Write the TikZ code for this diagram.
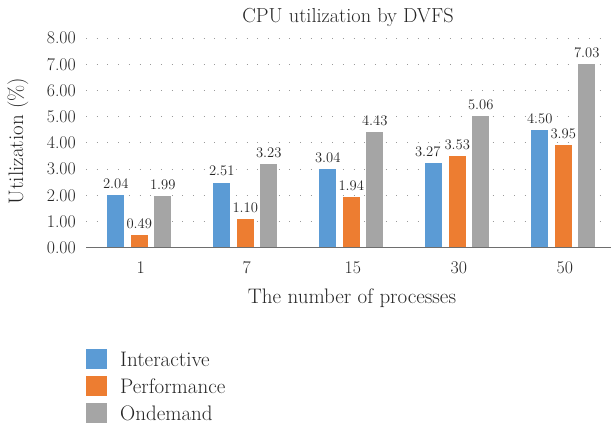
\documentclass[tikz,border=0pt]{standalone}
\usepackage{xcolor}
\definecolor{interactive}{HTML}{5B9BD5}
\definecolor{performance}{HTML}{ED7D31}
\definecolor{ondemand}{HTML}{A5A5A5}
\definecolor{axisgray}{HTML}{6E6E6E}
\definecolor{gridgray}{HTML}{9A9A9A}
\definecolor{txtgray}{HTML}{262626}

\begin{document}
\begin{tikzpicture}[x=1pt, y=1pt,
    lbl/.style={font=\fontsize{21}{24}\selectfont, text=txtgray, inner sep=0pt},
    tlbl/.style={font=\fontsize{17.8}{20}\selectfont, text=txtgray, inner sep=0pt},
    vlbl/.style={font=\fontsize{14.6}{16}\selectfont, text=txtgray, anchor=south, inner sep=0pt, yshift=5.5pt},
    gridline/.style={draw=gridgray, line width=1pt, dash pattern=on 1pt off 9.7pt},
    barbox/.style={draw=white, line width=0.8pt},
    keybox/.style={minimum width=21pt, minimum height=20pt, inner sep=0pt}]
  \useasboundingbox (0,0) rectangle (611,423);
  \node[lbl, font=\fontsize{20.3}{23}\selectfont] (title) at (348,406) {CPU utilization by DVFS};
  \begin{scope}[shift={(0pt,175.3pt)}, y=26.2pt]
    \foreach \v in {1,...,8}
      \draw[gridline] (86,\v) -- (605,\v);
    \foreach \v in {0,...,8}
      \node[tlbl, anchor=east] (tick\v) at (76,\v) {\v.00};
    \foreach \i/\a/\b/\c/\s/\n in {0/2.04/0.49/1.99/0/1, 1/2.51/1.10/3.23/0/7, 2/3.04/1.94/4.43/0/15, 3/3.27/3.53/5.06/-6/30, 4/4.50/3.95/7.03/0/50} {
      \pgfmathsetmacro{\cx}{139.25+106*\i}
      \filldraw[barbox, fill=interactive] (\cx-32.5,0) rectangle (\cx-14.5,\a);
      \filldraw[barbox, fill=performance] (\cx-9,0) rectangle (\cx+9,\b);
      \filldraw[barbox, fill=ondemand] (\cx+14.5,0) rectangle (\cx+32.5,\c);
      \node[vlbl] (ia\i) at (\cx-23.5+\s,\a) {\a};
      \node[vlbl] (pe\i) at (\cx,\b) {\b};
      \node[vlbl] (od\i) at (\cx+23.5,\c) {\c};
      \node[tlbl, anchor=north, yshift=-13.5pt] (cat\i) at (\cx+1.5,0) {\n};
    }
    \draw[axisgray, line width=1.5pt] (86,0) -- (611,0);
  \end{scope}
  \node[lbl, rotate=90] (ytitle) at (18,282) {Utilization (\%)};
  \node[lbl] (xtitle) at (352,125) {The number of processes};
  \node[keybox, fill=interactive] (key1) at (96.5,64) {};
  \node[keybox, fill=performance] (key2) at (96.5,37) {};
  \node[keybox, fill=ondemand] (key3) at (96.5,10) {};
  \node[lbl, anchor=west] (name1) at (120,64) {Interactive};
  \node[lbl, anchor=west] (name2) at (120,37) {Performance};
  \node[lbl, anchor=west] (name3) at (120,10) {Ondemand};
\end{tikzpicture}
\end{document}
